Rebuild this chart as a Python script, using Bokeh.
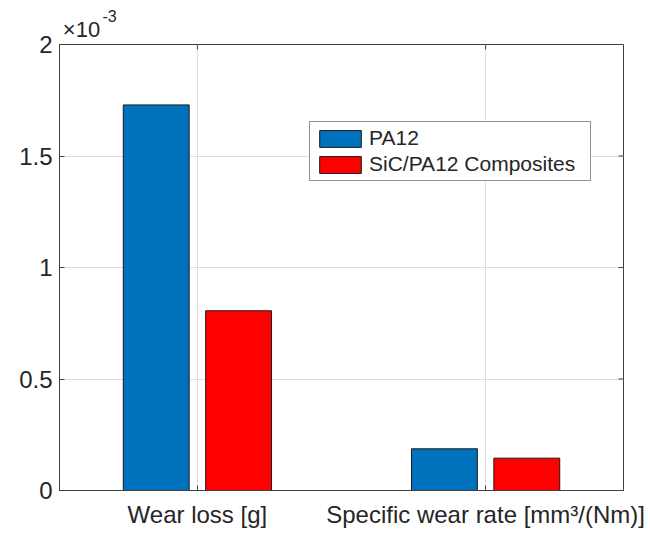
import math
from bokeh.plotting import figure
from bokeh.models import (Range1d, FixedTicker, Legend, LegendItem, LinearAxis,
                          ColumnDataSource)
from bokeh.transform import dodge
from bokeh.embed import file_html
from bokeh.resources import INLINE

# ---- data ----
categories = ["Wear loss [g]", "Specific wear rate [mm³/(Nm)]"]
cat_pos = [1, 2]
series_names = ["PA12", "SiC/PA12 Composites"]
pa12 = [1.729e-3, 0.187e-3]
sic_pa12 = [0.806e-3, 0.145e-3]
y_ticks = [0, 0.0005, 0.001, 0.0015, 0.002]
y_tick_labels = ["0", "0.5", "1", "1.5", "2"]
multiplier_base = "×10"
multiplier_exp = "-3"

FONT = "Liberation Sans"
TXT = "#262626"
AX = "#404040"

xr = Range1d(0.5215, 2.4785)
yr = Range1d(0, 0.002)
FRAME_W = 564
p = figure(width=650, height=534, output_backend="svg", toolbar_location=None,
           x_range=xr, y_range=yr,
           min_border_left=59, min_border_right=27, min_border_top=44,
           min_border_bottom=44)
p.outline_line_color = AX
p.outline_line_width = 1
p.background_fill_color = "white"

src = ColumnDataSource(dict(x=cat_pos, pa12=pa12, sic=sic_pa12))
off = 0.1429
bw = 0.2286
r1 = p.vbar(x=dodge("x", -off, range=p.x_range), top="pa12", width=bw, source=src,
            fill_color="#0072BD", line_color="#1a1a1a", line_width=1)
r2 = p.vbar(x=dodge("x", off, range=p.x_range), top="sic", width=bw, source=src,
            fill_color="#FF0000", line_color="#1a1a1a", line_width=1)

# axes
xt = FixedTicker(ticks=cat_pos)
yt = FixedTicker(ticks=y_ticks)
p.xaxis.ticker = xt
p.yaxis.ticker = yt
p.xaxis.major_label_overrides = {c: lab for c, lab in zip(cat_pos, categories)}
p.yaxis.major_label_overrides = {t: lab for t, lab in zip(y_ticks, y_tick_labels)}

for ax in (p.xaxis[0], p.yaxis[0]):
    ax.axis_line_color = AX
    ax.major_tick_line_color = AX
    ax.major_tick_in = 5
    ax.major_tick_out = 0
    ax.minor_tick_line_color = None
    ax.major_label_text_font = FONT
    ax.major_label_text_color = TXT
p.xaxis.major_label_text_font_size = "24px"
p.yaxis.major_label_text_font_size = "24px"
p.xaxis.major_label_standoff = 10
p.yaxis.major_label_standoff = 7

# box ticks on the right and top edges (half of each dash is clipped by the frame)
p.scatter(x=[xr.end] * len(y_ticks), y=y_ticks, marker="dash", size=10,
          line_color=AX, line_width=1)
p.scatter(x=cat_pos, y=[yr.end] * len(cat_pos), marker="dash", size=10,
          angle=math.pi / 2, line_color=AX, line_width=1)

p.xgrid.ticker = xt
p.ygrid.ticker = yt
p.xgrid.grid_line_color = "#DFDFDF"
p.ygrid.grid_line_color = "#DFDFDF"

legend = Legend(items=[LegendItem(label=series_names[0], renderers=[r1]),
                       LegendItem(label=series_names[1], renderers=[r2])],
                location=(250, 309), margin=0, padding=4, spacing=2,
                glyph_width=52, glyph_height=21, label_standoff=3,
                label_text_font=FONT, label_text_font_size="21px",
                label_text_color=TXT, label_height=21, label_width=217,
                border_line_color=TXT, border_line_width=1,
                background_fill_color="white", background_fill_alpha=1.0)
p.add_layout(legend)

# exponent multiplier above the y axis, drawn as tick labels of two bare top axes
px_per_unit = FRAME_W / (xr.end - xr.start)
base_x = xr.start + 22 / px_per_unit
exp_x = xr.start + 50 / px_per_unit
ax_base = LinearAxis(ticker=FixedTicker(ticks=[base_x]),
                     major_label_overrides={base_x: multiplier_base},
                     axis_line_color=None, major_tick_line_color=None,
                     minor_tick_line_color=None, major_tick_in=0, major_tick_out=0,
                     major_label_standoff=3, major_label_text_font=FONT,
                     major_label_text_font_size="22px", major_label_text_color=TXT)
p.add_layout(ax_base, "above")
ax_exp = LinearAxis(ticker=FixedTicker(ticks=[exp_x]),
                    major_label_overrides={exp_x: multiplier_exp},
                    axis_line_color=None, major_tick_line_color=None,
                    minor_tick_line_color=None, major_tick_in=0, major_tick_out=0,
                    major_label_standoff=-8, major_label_text_font=FONT,
                    major_label_text_font_size="16px", major_label_text_color=TXT)
p.add_layout(ax_exp, "above")

open("out.html", "w").write(file_html(p, INLINE))
